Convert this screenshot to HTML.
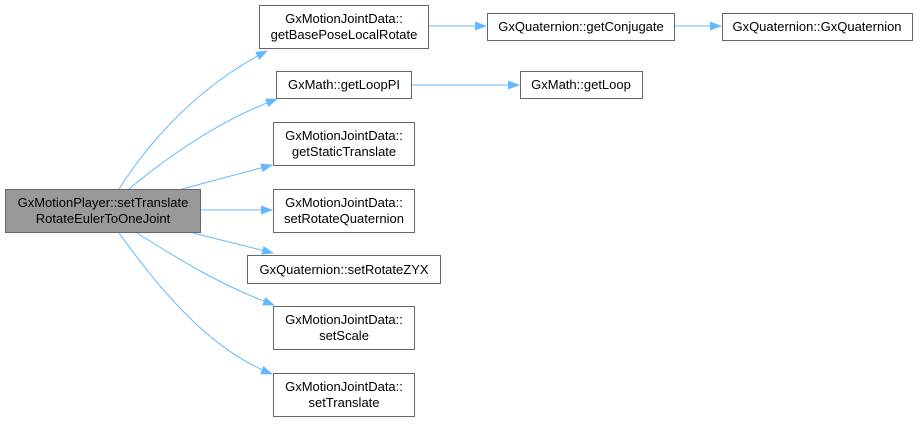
<!DOCTYPE html>
<html><head><meta charset="utf-8"><style>
body{margin:0;background:#fff}
svg text{font-family:"Liberation Sans",Arial,sans-serif;font-size:13px;fill:#000}
</style></head><body>
<svg width="917" height="421" viewBox="0 0 917 421" xmlns="http://www.w3.org/2000/svg">
<defs><marker id="a" markerWidth="12" markerHeight="9" refX="11" refY="4.5" orient="auto" markerUnits="userSpaceOnUse"><path d="M0,0 L12,4.5 L0,9 z" fill="#63b8ff"/></marker></defs>
<g fill="none" stroke="#63b8ff" stroke-width="1" marker-end="url(#a)">
<path d="M119,189 C150,140 200,85 267,51"/>
<path d="M129,189 C170,155 220,120 277,99"/>
<path d="M182,189 L272,165"/>
<path d="M200,210 L272,210"/>
<path d="M193,233 L273,253"/>
<path d="M137,233 C180,260 220,285 274,305"/>
<path d="M119,233 C160,290 210,350 272,374"/>
<path d="M428,26 L486,26"/>
<path d="M674,26 L721,26"/>
<path d="M411,85 L519,85"/>
</g>
<g stroke="#666" stroke-width="1" fill="#fff">
<rect x="5.5" y="189.5" width="195" height="43" fill="#999"/>
<rect x="259.5" y="5.5" width="169" height="43"/>
<rect x="276.5" y="71.5" width="135" height="27"/>
<rect x="273.5" y="122.5" width="141" height="43"/>
<rect x="273.5" y="189.5" width="141" height="43"/>
<rect x="247.5" y="255.5" width="193" height="28"/>
<rect x="273.5" y="306.5" width="141" height="43"/>
<rect x="273.5" y="373.5" width="141" height="43"/>
<rect x="487.5" y="13.5" width="187" height="27"/>
<rect x="722.5" y="13.5" width="190" height="27"/>
<rect x="520.5" y="71.5" width="122" height="27"/>
</g>
<g text-anchor="middle">
<text x="103" y="207">GxMotionPlayer::setTranslate</text><text x="103" y="223">RotateEulerToOneJoint</text>
<text x="344" y="23">GxMotionJointData::</text><text x="344" y="39">getBasePoseLocalRotate</text>
<text x="344" y="89">GxMath::getLoopPI</text>
<text x="344" y="140">GxMotionJointData::</text><text x="344" y="156">getStaticTranslate</text>
<text x="344" y="207">GxMotionJointData::</text><text x="344" y="223">setRotateQuaternion</text>
<text x="344" y="274">GxQuaternion::setRotateZYX</text>
<text x="344" y="324">GxMotionJointData::</text><text x="344" y="340">setScale</text>
<text x="344" y="391">GxMotionJointData::</text><text x="344" y="407">setTranslate</text>
<text x="581" y="31">GxQuaternion::getConjugate</text>
<text x="817" y="31">GxQuaternion::GxQuaternion</text>
<text x="581" y="89">GxMath::getLoop</text>
</g>
</svg>
</body></html>
